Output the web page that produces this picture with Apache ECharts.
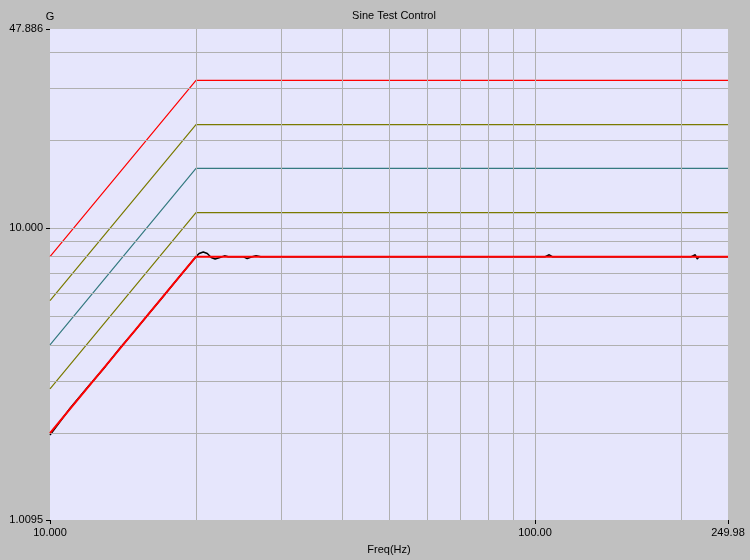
<!DOCTYPE html>
<html>
<head>
<meta charset="utf-8">
<script src="https://cdn.jsdelivr.net/npm/echarts@6/dist/echarts.min.js"></script>
<style>
html,body{margin:0;padding:0;background:#C0C0C0;}
#chart{width:750px;height:560px;}
</style>
</head>
<body>
<div id="chart"></div>
<script>
// Tick labels
const xTickValues = [10, 100, 249.98];
const xTickLabels = ['10.000', '100.00', '249.98'];
const yTickValues = [1.0095, 10, 47.886];
const yTickLabels = ['1.0095', '10.000', '47.886'];
// Grid line positions
const xGridValues = [20, 30, 40, 50, 60, 70, 80, 90, 100, 200];
const yGridValues = [2, 3, 4, 5, 6, 7, 8, 9, 10, 20, 30, 40];
// Limit / reference profile (G)
const limitFreq = [10, 20, 249.98];
const abortHigh = [8, 32, 32];
const alarmHigh = [5.66, 22.6, 22.6];
const midLimit = [4, 16, 16];
const alarmLow = [2.83, 11.3, 11.3];
const reference = [2, 8, 8];
// Control (measured) signal
const controlFreq = [10, 11, 12, 13, 14, 15, 16, 17, 18, 19, 20, 20.3, 20.7, 21.1, 21.5, 21.9, 22.4, 22.9, 23.3, 25, 25.5, 26, 26.6, 27.2, 40, 105, 107, 108.5, 210, 214, 216, 218, 228, 229, 231, 249.98];
const controlG = [1.97, 2.43, 2.89, 3.37, 3.93, 4.49, 5.12, 5.77, 6.48, 7.22, 8.0, 8.2, 8.3, 8.2, 7.95, 7.85, 7.95, 8.05, 8.0, 8.0, 7.88, 7.98, 8.06, 8.0, 8.0, 8.0, 8.12, 8.0, 8.0, 8.12, 7.85, 8.0, 8.0, 8.06, 8.0, 8.0];

function zip(xs, ys) { return xs.map((x, i) => [x, ys[i]]); }
function labelFor(vals, labels, v) {
  let best = 0, d = Infinity;
  vals.forEach((t, i) => { const dd = Math.abs(Math.log(t) - Math.log(v)); if (dd < d) { d = dd; best = i; } });
  return labels[best];
}
const font = 'Liberation Sans, Arial, sans-serif';
function limitSeries(name, vals, color, width) {
  return {
    name: name, type: 'line', data: zip(limitFreq, vals), symbol: 'none', z: 3,
    lineStyle: { color: color, width: width }, silent: true, animation: false
  };
}

const chart = echarts.init(document.getElementById('chart'), null, { renderer: 'canvas' });
chart.setOption({
  backgroundColor: '#C0C0C0',
  animation: false,
  title: {
    text: 'Sine Test Control', left: 389, top: 5, textAlign: 'center',
    textStyle: { fontFamily: font, fontSize: 11, fontWeight: 'normal', color: '#000' }
  },
  grid: {
    left: 50, right: 22, top: 29, bottom: 40, show: true,
    outerBoundsMode: 'none', containLabel: false,
    backgroundColor: '#E6E6FC', borderWidth: 0
  },
  xAxis: {
    type: 'log', logBase: 10, min: 10, max: 249.98,
    name: 'Freq(Hz)', nameLocation: 'middle', nameGap: 24,
    nameTextStyle: { fontFamily: font, fontSize: 11, color: '#000' },
    axisLine: { show: false },
    splitLine: { show: false },
    minorTick: { show: false },
    axisTick: { show: true, length: 4, customValues: xTickValues, lineStyle: { color: '#000' } },
    axisLabel: {
      customValues: xTickValues, margin: 7, fontFamily: font, fontSize: 11, color: '#000',
      formatter: v => labelFor(xTickValues, xTickLabels, v)
    }
  },
  yAxis: {
    type: 'log', logBase: 10, min: 1.0095, max: 47.886,
    name: 'G', nameLocation: 'end', nameGap: 7,
    nameTextStyle: { fontFamily: font, fontSize: 11, color: '#000', align: 'center' },
    axisLine: { show: false },
    splitLine: { show: false },
    axisTick: { show: true, length: 4, customValues: yTickValues, lineStyle: { color: '#000' } },
    axisLabel: {
      customValues: yTickValues, margin: 7, fontFamily: font, fontSize: 11, color: '#000',
      formatter: v => labelFor(yTickValues, yTickLabels, v)
    }
  },
  series: [
    {
      name: 'grid', type: 'line', data: [], z: 1, silent: true,
      markLine: {
        silent: true, symbol: 'none', animation: false,
        label: { show: false },
        lineStyle: { color: '#B0B0B0', width: 1, type: 'solid' },
        emphasis: { disabled: true },
        data: xGridValues.map(v => ({ xAxis: v })).concat(yGridValues.map(v => ({ yAxis: v })))
      }
    },
    limitSeries('abortHigh', abortHigh, '#FF0000', 1.2),
    limitSeries('alarmHigh', alarmHigh, '#7A7A00', 1.2),
    limitSeries('midLimit', midLimit, '#357A80', 1.2),
    limitSeries('alarmLow', alarmLow, '#7A7A00', 1.2),
    {
      name: 'control', type: 'line', data: zip(controlFreq, controlG), symbol: 'none', z: 4,
      lineStyle: { color: '#000000', width: 1.5 }, silent: true
    },
    {
      name: 'reference', type: 'line', data: zip(limitFreq, reference), symbol: 'none', z: 5,
      lineStyle: { color: '#FF0000', width: 2 }, silent: true
    }
  ]
});
</script>
</body>
</html>
